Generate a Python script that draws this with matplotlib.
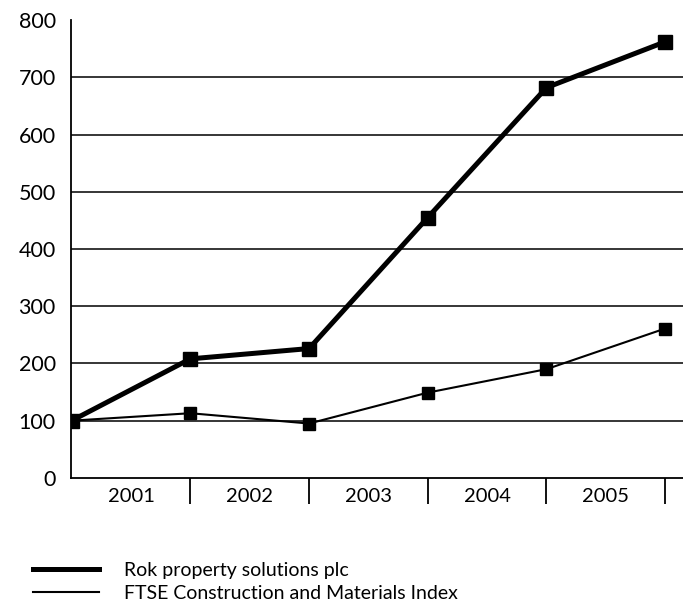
import matplotlib
matplotlib.use("Agg")
import matplotlib.pyplot as plt
from matplotlib.lines import Line2D

# ── Data ──────────────────────────────────────────────────────────────────
years = ["2001", "2002", "2003", "2004", "2005"]
x_pos = [0, 1, 2, 3, 4, 5]
rok = [100, 208, 226, 455, 682, 762]
ftse = [100, 113, 95, 149, 190, 261]
y_ticks = [0, 100, 200, 300, 400, 500, 600, 700, 800]

plt.rcParams["font.family"] = ["Lato", "DejaVu Sans"]

fig = plt.figure(figsize=(6.83, 6.08), dpi=100)
ax = fig.add_axes([0.104, 0.214, 0.896, 0.753])

# gridlines 100..700
for v in y_ticks[1:-1]:
    ax.axhline(v, color="black", linewidth=1.1, zorder=1)

ax.plot(x_pos, ftse, color="black", linewidth=1.5, marker="s",
        markersize=8, zorder=3)
ax.plot(x_pos, rok, color="black", linewidth=3.6, marker="s",
        markersize=10.5, zorder=4)

ax.set_xlim(-0.005, 5.15)
ax.set_ylim(0, 800)
ax.set_yticks(y_ticks)
ax.tick_params(axis="y", length=0, pad=11, labelsize=15.5)

ax.set_xticks([1, 2, 3, 4, 5])
ax.set_xticklabels([])
ax.set_xticks([0.5, 1.5, 2.5, 3.5, 4.5], minor=True)
ax.set_xticklabels(years, minor=True)
ax.tick_params(axis="x", which="major", direction="out", length=19,
               width=1.3)
ax.tick_params(axis="x", which="minor", length=0, pad=7, labelsize=14.5)

for s in ["top", "right"]:
    ax.spines[s].set_visible(False)
for s in ["left", "bottom"]:
    ax.spines[s].set_linewidth(1.3)
ax.spines["left"].set_zorder(5)

handles = [Line2D([], [], color="black", linewidth=3.6),
           Line2D([], [], color="black", linewidth=1.5)]
fig.legend(handles, ["Rok property solutions plc",
                     "FTSE Construction and Materials Index"],
           loc="upper left", bbox_to_anchor=(0.048, 0.076), frameon=False,
           fontsize=14, handlelength=3.4, handletextpad=1.3,
           labelspacing=0.3, borderaxespad=0, borderpad=0)

fig.savefig("out.png", dpi=100)
